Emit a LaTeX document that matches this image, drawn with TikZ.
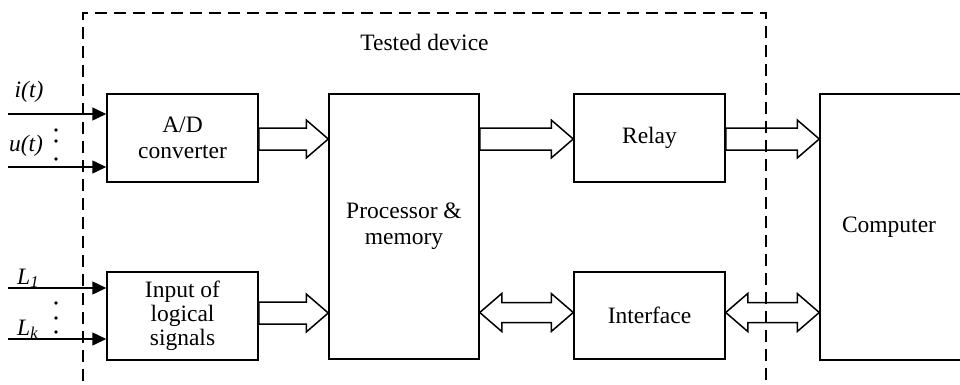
\documentclass[tikz,border=0pt]{standalone}
\usepackage{fontspec}
\setmainfont{Liberation Serif}
\usetikzlibrary{arrows.meta,calc}
\tikzset{
  box/.style={draw, line width=1.5pt, rectangle, inner sep=0pt, align=center,
    font=\fontsize{23.5}{26}\selectfont},
  txt/.style={inner sep=0pt, align=center, font=\fontsize{23.5}{26}\selectfont},
  lbl/.style={inner sep=0pt, font=\fontsize{23.5}{26}\selectfont\itshape},
  sig/.style={line width=1.5pt, -{Triangle[length=14pt,width=13pt]}},
  hollow/.style={draw, line width=1.5pt, line join=miter},
  frame/.style={line width=1.5pt, dash pattern=on 12pt off 7pt},
  dot/.style={circle, fill=black, inner sep=0pt, minimum size=3.6pt}
}
% single hollow arrow from west-point #1 to tip #2 (horizontal)
\newcommand{\hollowR}[2]{%
  \draw[hollow] let \p1=(#1), \p2=(#2) in
    (\x1,\y2+11pt) -- (\x2-22pt,\y2+11pt) -- (\x2-22pt,\y2+19pt) -- (\x2,\y2)
    -- (\x2-22pt,\y2-19pt) -- (\x2-22pt,\y2-11pt) -- (\x1,\y2-11pt) -- cycle;}
% double hollow arrow between #1 (left tip) and #2 (right tip)
\newcommand{\hollowLR}[2]{%
  \draw[hollow] let \p1=(#1), \p2=(#2) in
    (\x1,\y2) -- (\x1+22pt,\y2+19pt) -- (\x1+22pt,\y2+10pt) -- (\x2-22pt,\y2+10pt)
    -- (\x2-22pt,\y2+19pt) -- (\x2,\y2) -- (\x2-22pt,\y2-19pt) -- (\x2-22pt,\y2-10pt)
    -- (\x1+22pt,\y2-10pt) -- (\x1+22pt,\y2-19pt) -- cycle;}
\begin{document}
\begin{tikzpicture}[x=1pt,y=-1pt]
\clip (0,0) rectangle (960,385);
\useasboundingbox (0,0) rectangle (960,385);
\fill[white] (0,0) rectangle (960,385);

% tested device frame
\draw[frame] (83,400) -- (83,13) -- (766,13) -- (766,400);
\node[txt] (title) at (424.5,42) {Tested device};

% boxes
\node[box, minimum width=151pt, minimum height=88pt] (ad) at (182.5,138) {A/D\\converter};
\node[box, minimum width=151pt, minimum height=88pt] (lg) at (182.5,316) {Input of\\[-2pt]logical\\[-2pt]signals};
\node[box, minimum width=150pt, minimum height=265pt] (proc) at (404,226.5) {Processor \&\\memory};
\node[box, minimum width=151pt, minimum height=88pt] (relay) at (649.5,138) {Relay};
\node[box, minimum width=151pt, minimum height=87pt] (iface) at (649.5,315.5) {Interface};
\node[box, minimum width=200pt, minimum height=266pt] (comp) at (920,227) {};
\node[txt] (comptxt) at (889,227) {Computer};

% input signals
\coordinate (i0) at (8,114);
\coordinate (u0) at (8,167);
\coordinate (l10) at (8,288);
\coordinate (lk0) at (8,339);
\draw[sig] (i0) -- (i0 -| ad.west);
\draw[sig] (u0) -- (u0 -| ad.west);
\draw[sig] (l10) -- (l10 -| lg.west);
\draw[sig] (lk0) -- (lk0 -| lg.west);
\node[lbl] (il) at (29,92) {i(t)};
\node[lbl] (ul) at (26,146) {u(t)};
\node[lbl, anchor=base west] (l1l) at (17,284) {L\textsubscript{1}};
\node[lbl, anchor=base west] (lkl) at (17,335) {L\textsubscript{k}};
\node[dot] (d1) at (56,130) {};
\node[dot] (d2) at (56,141) {};
\node[dot] (d3) at (56,159) {};
\node[dot] (d4) at (56,303) {};
\node[dot] (d5) at (56,318) {};
\node[dot] (d6) at (56,332) {};

% hollow arrows
\coordinate (a1) at ($(ad.east)+(0,1)$);
\coordinate (a1t) at (proc.west |- a1);
\hollowR{a1}{a1t}
\coordinate (a2) at ($(lg.east)+(0,-3)$);
\coordinate (a2t) at (proc.west |- a2);
\hollowR{a2}{a2t}
\coordinate (a3) at ($(relay.west -| proc.east)+(0,1)$);
\coordinate (a3t) at ($(relay.west)+(0,1)$);
\hollowR{a3}{a3t}
\coordinate (a4) at ($(relay.east)+(0,1)$);
\coordinate (a4t) at (comp.west |- a4);
\hollowR{a4}{a4t}
\coordinate (b1) at ($(iface.west -| proc.east)+(0,-3)$);
\coordinate (b1t) at ($(iface.west)+(0,-3)$);
\hollowLR{b1}{b1t}
\coordinate (b2) at ($(iface.east)+(0,-3)$);
\coordinate (b2t) at (comp.west |- b2);
\hollowLR{b2}{b2t}
\end{tikzpicture}
\end{document}
